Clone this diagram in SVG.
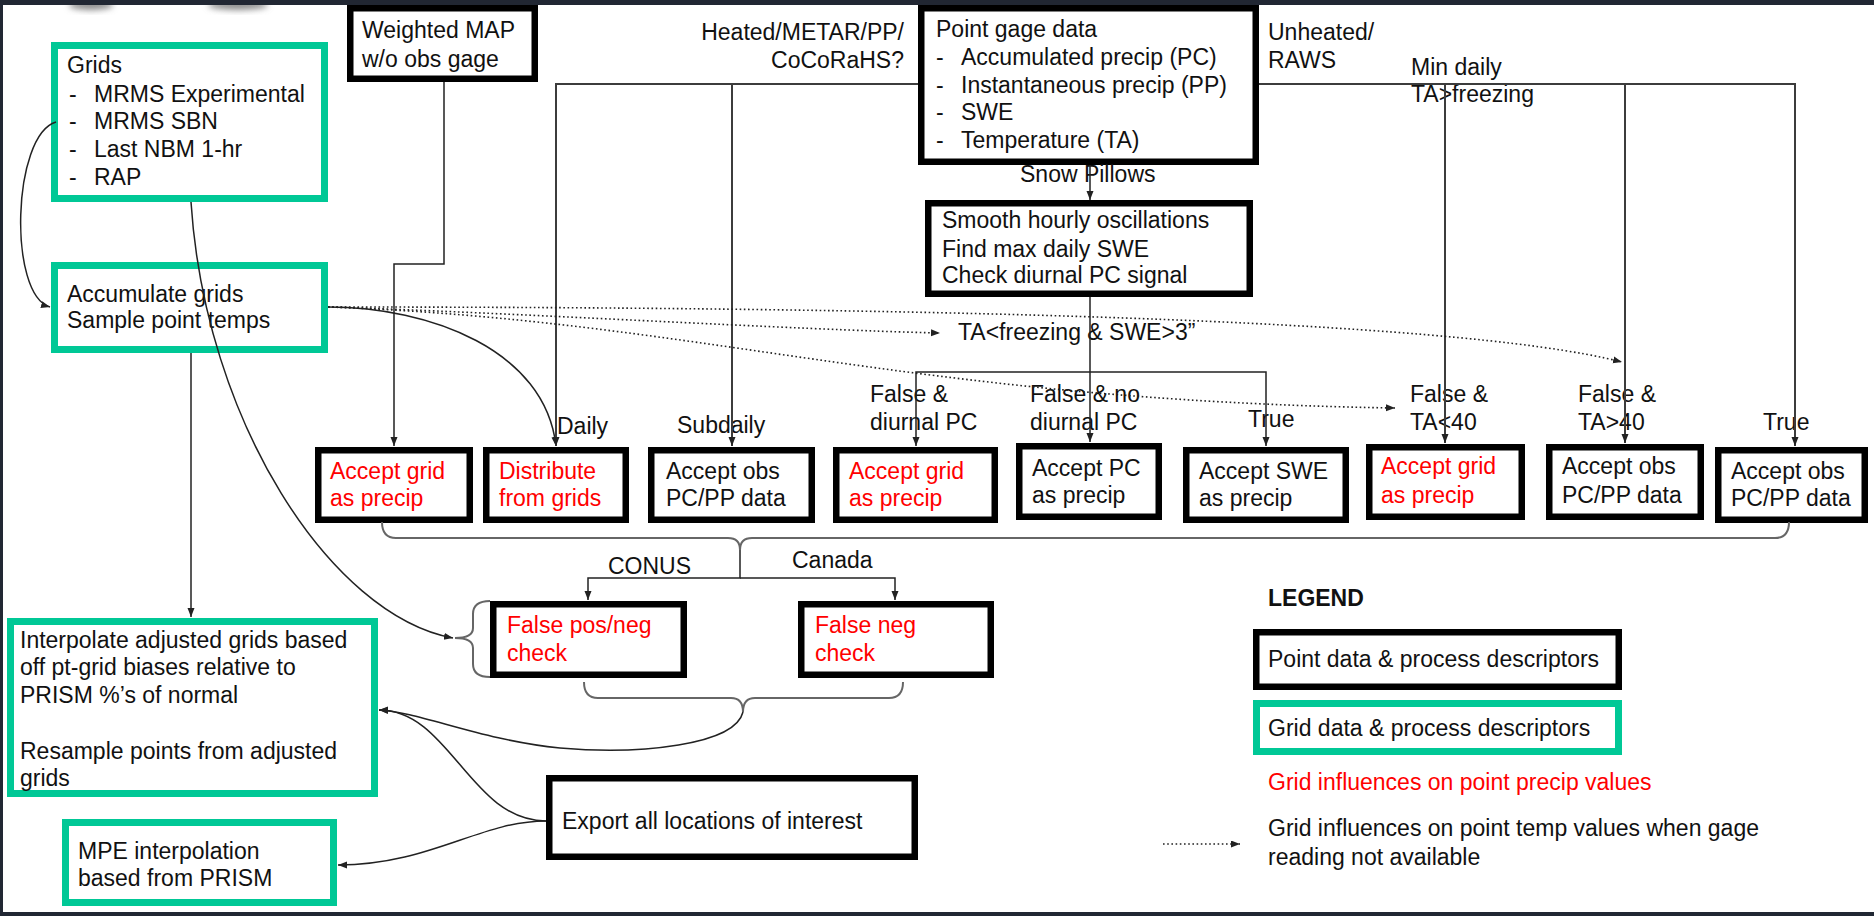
<svg xmlns="http://www.w3.org/2000/svg" width="1874" height="916" viewBox="0 0 1874 916">
<defs>
<style>
text{font-family:"Liberation Sans",Arial,sans-serif;font-size:23px;fill:#111}
.red{fill:#ff0000}
.bold{font-weight:bold}
.pb{fill:#fff;stroke:#000;stroke-width:6.5}
.gb{fill:#fff;stroke:#00c896;stroke-width:7}
.ln{fill:none;stroke:#222;stroke-width:1.5}
.bus{fill:none;stroke:#3c3c3c;stroke-width:2}
.br{fill:none;stroke:#666;stroke-width:2}
.dot{fill:none;stroke:#222;stroke-width:1.6;stroke-dasharray:1.6 2.6}
</style>
<marker id="ah" markerWidth="10" markerHeight="8" refX="9" refY="3.5" orient="auto" markerUnits="userSpaceOnUse">
<path d="M0,0 L9,3.5 L0,7 z" fill="#222"/>
</marker>
<filter id="blur" x="-50%" y="-50%" width="200%" height="200%"><feGaussianBlur stdDeviation="3"/></filter>
</defs>
<rect x="0" y="0" width="1874" height="916" fill="#fff"/>
<ellipse cx="91" cy="5" rx="22" ry="5" fill="#8a8a8a" filter="url(#blur)"/>
<ellipse cx="238" cy="5" rx="30" ry="5" fill="#8a8a8a" filter="url(#blur)"/>
<rect x="0" y="0" width="1874" height="5" fill="#212733"/>
<rect x="0" y="0" width="3" height="916" fill="#212733"/>
<rect x="0" y="912" width="1874" height="4" fill="#212733"/>

<g id="grids">
<rect class="gb" x="54.5" y="45.5" width="270" height="153"/>
<text x="67" y="73">Grids</text>
<text x="69" y="102">-</text><text x="94" y="102">MRMS Experimental</text>
<text x="69" y="129">-</text><text x="94" y="129">MRMS SBN</text>
<text x="69" y="157">-</text><text x="94" y="157">Last NBM 1-hr</text>
<text x="69" y="185">-</text><text x="94" y="185">RAP</text>
</g>
<g id="accumulate">
<rect class="gb" x="54.5" y="265.5" width="270" height="84"/>
<text x="67" y="302">Accumulate grids</text>
<text x="67" y="328">Sample point temps</text>
</g>
<g id="weighted">
<rect class="pb" x="350.25" y="8.25" width="184.5" height="70.5"/>
<text x="362" y="38">Weighted MAP</text>
<text x="362" y="67">w/o obs gage</text>
</g>
<g id="pointgage">
<rect class="pb" x="921.25" y="8.25" width="334.5" height="153.5"/>
<text x="936" y="37">Point gage data</text>
<text x="936" y="65">-</text><text x="961" y="65">Accumulated precip (PC)</text>
<text x="936" y="93">-</text><text x="961" y="93">Instantaneous precip (PP)</text>
<text x="936" y="120">-</text><text x="961" y="120">SWE</text>
<text x="936" y="148">-</text><text x="961" y="148">Temperature (TA)</text>
</g>
<g id="smooth">
<rect class="pb" x="928.25" y="203.25" width="321.5" height="90.5"/>
<text x="942" y="228">Smooth hourly oscillations</text>
<text x="942" y="257">Find max daily SWE</text>
<text x="942" y="283">Check diurnal PC signal</text>
</g>
<g id="acc1">
<rect class="pb" x="318.25" y="450.25" width="151.5" height="69.5"/>
<text class="red" x="330" y="479">Accept grid</text>
<text class="red" x="330" y="506">as precip</text>
</g>
<g id="distribute">
<rect class="pb" x="486.25" y="450.25" width="139.5" height="69.5"/>
<text class="red" x="499" y="479">Distribute</text>
<text class="red" x="499" y="506">from grids</text>
</g>
<g id="obs1">
<rect class="pb" x="651.25" y="450.25" width="160.5" height="69.5"/>
<text x="666" y="479">Accept obs</text>
<text x="666" y="506">PC/PP data</text>
</g>
<g id="acc2">
<rect class="pb" x="836.25" y="450.25" width="158.5" height="69.5"/>
<text class="red" x="849" y="479">Accept grid</text>
<text class="red" x="849" y="506">as precip</text>
</g>
<g id="accpc">
<rect class="pb" x="1019.25" y="446.25" width="139.5" height="70.5"/>
<text x="1032" y="476">Accept PC</text>
<text x="1032" y="503">as precip</text>
</g>
<g id="accswe">
<rect class="pb" x="1186.25" y="450.25" width="159.5" height="69.5"/>
<text x="1199" y="479">Accept SWE</text>
<text x="1199" y="506">as precip</text>
</g>
<g id="acc3">
<rect class="pb" x="1369.25" y="447.25" width="152.5" height="69.5"/>
<text class="red" x="1381" y="474">Accept grid</text>
<text class="red" x="1381" y="503">as precip</text>
</g>
<g id="obs2">
<rect class="pb" x="1549.25" y="447.25" width="151.5" height="69.5"/>
<text x="1562" y="474">Accept obs</text>
<text x="1562" y="503">PC/PP data</text>
</g>
<g id="obs3">
<rect class="pb" x="1718.25" y="450.25" width="146.5" height="69.5"/>
<text x="1731" y="479">Accept obs</text>
<text x="1731" y="506">PC/PP data</text>
</g>
<g id="falseposneg">
<rect class="pb" x="493.25" y="604.25" width="190.5" height="70.5"/>
<text class="red" x="507" y="633">False pos/neg</text>
<text class="red" x="507" y="661">check</text>
</g>
<g id="falseneg">
<rect class="pb" x="801.25" y="604.25" width="189.5" height="70.5"/>
<text class="red" x="815" y="633">False neg</text>
<text class="red" x="815" y="661">check</text>
</g>
<g id="interpolate">
<rect class="gb" x="10.5" y="621.5" width="364" height="172"/>
<text x="20" y="648">Interpolate adjusted grids based</text>
<text x="20" y="675">off pt-grid biases relative to</text>
<text x="20" y="703">PRISM %’s of normal</text>
<text x="20" y="759">Resample points from adjusted</text>
<text x="20" y="786">grids</text>
</g>
<g id="export">
<rect class="pb" x="549.25" y="778.25" width="365.5" height="78.5"/>
<text x="562" y="829">Export all locations of interest</text>
</g>
<g id="mpe">
<rect class="gb" x="65.5" y="822.5" width="268" height="80"/>
<text x="78" y="859">MPE interpolation</text>
<text x="78" y="886">based from PRISM</text>
</g>

<g id="labels">
<text x="904" y="40" text-anchor="end">Heated/METAR/PP/</text>
<text x="904" y="68" text-anchor="end">CoCoRaHS?</text>
<text x="1268" y="40">Unheated/</text>
<text x="1268" y="68">RAWS</text>
<text x="1411" y="75">Min daily</text>
<text x="1411" y="102">TA&gt;freezing</text>
<text x="1020" y="182">Snow Pillows</text>
<text x="958" y="340">TA&lt;freezing &amp; SWE&gt;3”</text>
<text x="557" y="434">Daily</text>
<text x="677" y="433">Subdaily</text>
<text x="870" y="402">False &amp;</text>
<text x="870" y="430">diurnal PC</text>
<text x="1030" y="402">False &amp; no</text>
<text x="1030" y="430">diurnal PC</text>
<text x="1248" y="427">True</text>
<text x="1410" y="402">False &amp;</text>
<text x="1410" y="430">TA&lt;40</text>
<text x="1578" y="402">False &amp;</text>
<text x="1578" y="430">TA&gt;40</text>
<text x="1763" y="430">True</text>
<text x="608" y="574">CONUS</text>
<text x="792" y="568">Canada</text>
</g>

<g id="legend">
<text class="bold" x="1268" y="606">LEGEND</text>
<rect class="pb" x="1256.25" y="632.25" width="362.5" height="54.5"/>
<text x="1268" y="667">Point data &amp; process descriptors</text>
<rect class="gb" x="1256.5" y="703.5" width="362" height="48"/>
<text x="1268" y="736">Grid data &amp; process descriptors</text>
<text class="red" x="1268" y="790">Grid influences on point precip values</text>
<text x="1268" y="836">Grid influences on point temp values when gage</text>
<text x="1268" y="865">reading not available</text>
<path class="dot" d="M1163,844 H1240" marker-end="url(#ah)"/>
</g>

<g id="connectors">
<path class="ln" d="M56,122 C12,135 8,295 50,307" marker-end="url(#ah)"/>
<path class="ln" d="M191,353 V617" marker-end="url(#ah)"/>
<path class="ln" d="M191,202 C205,420 330,615 453,638" marker-end="url(#ah)"/>
<path class="ln" d="M444,82 V264 H394 V446" marker-end="url(#ah)"/>
<path class="ln" d="M328,307 C430,307 545,350 556,446" marker-end="url(#ah)"/>
<path class="bus" d="M918,84 H556 V446" marker-end="url(#ah)"/>
<path class="bus" d="M732,84 V446" marker-end="url(#ah)"/>
<path class="bus" d="M1259,84 H1795 V446" marker-end="url(#ah)"/>
<path class="bus" d="M1445,84 V443" marker-end="url(#ah)"/>
<path class="bus" d="M1625,84 V443" marker-end="url(#ah)"/>
<path class="ln" d="M1090,165 V200" marker-end="url(#ah)"/>
<path class="ln" d="M1090,297 V442" marker-end="url(#ah)"/>
<path class="ln" d="M1090,372 H916 V446" marker-end="url(#ah)"/>
<path class="ln" d="M1090,372 H1266 V446" marker-end="url(#ah)"/>
<path class="dot" d="M328,307 C900,307 1450,318 1622,362" marker-end="url(#ah)"/>
<path class="dot" d="M328,307 C500,312 800,330 940,333" marker-end="url(#ah)"/>
<path class="dot" d="M328,307 C700,320 900,400 1395,408" marker-end="url(#ah)"/>
<path class="br" d="M382,522 Q382,538 396,538 H728 Q740,538 740,550 Q740,538 752,538 H1775 Q1789,538 1789,522"/>
<path class="ln" d="M740,550 V578 H588 V600" marker-end="url(#ah)"/>
<path class="ln" d="M740,578 H895 V600" marker-end="url(#ah)"/>
<path class="br" d="M490,601 Q473,601 473,614 V628 Q473,638 455,638 Q473,638 473,648 V664 Q473,677 490,677"/>
<path class="br" d="M584,682 Q584,698 598,698 H731 Q743,698 743,712 Q743,698 755,698 H889 Q903,698 903,682"/>
<path class="ln" d="M743,712 C735,745 640,755 560,748 C480,740 420,712 379,710" marker-end="url(#ah)"/>
<path class="ln" d="M546,821 C470,821 450,710 379,710" marker-end="url(#ah)"/>
<path class="ln" d="M546,821 C480,821 430,865 338,865" marker-end="url(#ah)"/>
</g>
</svg>
